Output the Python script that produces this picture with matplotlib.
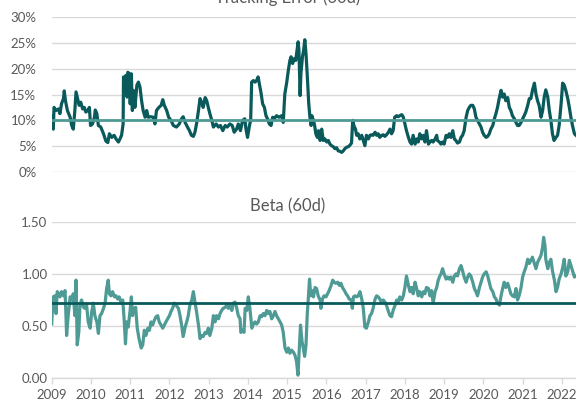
import matplotlib
matplotlib.use("Agg")
import matplotlib.pyplot as plt
from matplotlib.ticker import FuncFormatter

# ---------------- data ----------------
te_years = [2009.00, 2009.02, 2009.04, 2009.06, 2009.11, 2009.17, 2009.21, 2009.25, 2009.30, 2009.32,
            2009.35, 2009.40, 2009.47, 2009.51, 2009.55, 2009.59, 2009.62, 2009.65, 2009.70, 2009.74,
            2009.79, 2009.83, 2009.87, 2009.92, 2009.96, 2009.99, 2010.04, 2010.09, 2010.11, 2010.15,
            2010.19, 2010.25, 2010.32, 2010.38, 2010.43, 2010.47, 2010.53, 2010.59, 2010.64, 2010.70,
            2010.74, 2010.78, 2010.82, 2010.83, 2010.86, 2010.89, 2010.92, 2010.94, 2010.98, 2011.00,
            2011.03, 2011.055, 2011.08, 2011.12, 2011.17, 2011.21, 2011.25, 2011.29, 2011.33, 2011.38,
            2011.42, 2011.46, 2011.52, 2011.59, 2011.63, 2011.67, 2011.73, 2011.79, 2011.83, 2011.87,
            2011.93, 2011.98, 2012.04, 2012.10, 2012.18, 2012.25, 2012.31, 2012.35, 2012.40, 2012.46,
            2012.51, 2012.56, 2012.61, 2012.65, 2012.69, 2012.74, 2012.78, 2012.82, 2012.86, 2012.91,
            2012.95, 2012.99, 2013.03, 2013.08, 2013.12, 2013.19, 2013.25, 2013.30, 2013.36, 2013.42,
            2013.475, 2013.54, 2013.60, 2013.65, 2013.71, 2013.755, 2013.81, 2013.865, 2013.92, 2013.95,
            2013.99, 2014.04, 2014.07, 2014.095, 2014.14, 2014.18, 2014.22, 2014.26, 2014.29, 2014.33,
            2014.375, 2014.42, 2014.46, 2014.50, 2014.545, 2014.59, 2014.63, 2014.67, 2014.73, 2014.79,
            2014.86, 2014.90, 2014.94, 2014.99, 2015.03, 2015.07, 2015.10, 2015.14, 2015.17, 2015.22,
            2015.24, 2015.28, 2015.30, 2015.33, 2015.35, 2015.39, 2015.42, 2015.45, 2015.48, 2015.51,
            2015.55, 2015.58, 2015.61, 2015.63, 2015.67, 2015.70, 2015.73, 2015.77, 2015.80, 2015.84,
            2015.88, 2015.92, 2015.96, 2016.01, 2016.05, 2016.09, 2016.13, 2016.175, 2016.22, 2016.26,
            2016.30, 2016.345, 2016.39, 2016.43, 2016.47, 2016.515, 2016.56, 2016.60, 2016.64, 2016.67,
            2016.70, 2016.74, 2016.77, 2016.81, 2016.85, 2016.90, 2016.94, 2016.98, 2017.02, 2017.07,
            2017.11, 2017.15, 2017.19, 2017.24, 2017.28, 2017.32, 2017.36, 2017.41, 2017.45, 2017.49,
            2017.53, 2017.58, 2017.62, 2017.66, 2017.70, 2017.74, 2017.79, 2017.83, 2017.87, 2017.92,
            2017.96, 2018.00, 2018.04, 2018.09, 2018.13, 2018.17, 2018.21, 2018.26, 2018.30, 2018.34,
            2018.38, 2018.43, 2018.47, 2018.51, 2018.55, 2018.60, 2018.64, 2018.68, 2018.72, 2018.77,
            2018.81, 2018.83, 2018.88, 2018.92, 2018.96, 2019.00, 2019.05, 2019.09, 2019.13, 2019.17,
            2019.22, 2019.26, 2019.30, 2019.34, 2019.39, 2019.43, 2019.47, 2019.51, 2019.56, 2019.60,
            2019.64, 2019.68, 2019.73, 2019.77, 2019.81, 2019.85, 2019.90, 2019.94, 2019.98, 2020.02,
            2020.07, 2020.11, 2020.15, 2020.19, 2020.24, 2020.28, 2020.32, 2020.36, 2020.41, 2020.45,
            2020.49, 2020.53, 2020.57, 2020.62, 2020.66, 2020.70, 2020.74, 2020.79, 2020.83, 2020.87,
            2020.91, 2020.96, 2021.00, 2021.04, 2021.08, 2021.13, 2021.17, 2021.21, 2021.25, 2021.30,
            2021.34, 2021.38, 2021.42, 2021.47, 2021.51, 2021.55, 2021.59, 2021.64, 2021.68, 2021.72,
            2021.76, 2021.80, 2021.85, 2021.89, 2021.93, 2021.98, 2022.02, 2022.06, 2022.10, 2022.15,
            2022.19, 2022.23, 2022.27, 2022.32, 2022.36]
te_values = [10.9, 8.7, 8.3, 12.5, 11.9, 12.2, 11.3, 13.2, 14.2, 15.7,
             13.8, 11.9, 10.6, 9.0, 8.3, 11.9, 15.5, 14.5, 12.9, 13.5,
             12.2, 12.5, 11.6, 11.9, 12.5, 9.0, 9.3, 10.6, 12.0, 11.3,
             9.0, 8.7, 7.4, 6.0, 5.7, 7.4, 6.7, 7.1, 6.4, 5.8,
             6.4, 7.1, 9.3, 18.4, 17.4, 18.7, 14.5, 19.3, 19.0, 13.2,
             19.0, 11.9, 15.8, 12.5, 16.8, 17.4, 16.4, 13.8, 11.9, 10.6,
             11.9, 10.6, 10.7, 10.6, 9.3, 11.9, 12.5, 12.9, 14.0, 12.9,
             11.9, 10.6, 10.0, 9.0, 8.7, 9.3, 10.3, 10.7, 9.6, 8.7,
             8.0, 7.1, 6.9, 7.7, 9.3, 11.9, 14.2, 13.5, 12.5, 14.4,
             13.8, 12.5, 11.3, 10.0, 8.7, 9.3, 8.7, 9.0, 8.0, 9.0,
             8.7, 9.3, 9.0, 7.7, 8.3, 9.3, 8.0, 10.0, 10.3, 8.3,
             6.7, 9.0, 10.0, 17.4, 17.7, 17.4, 17.7, 18.4, 17.1, 15.5,
             13.2, 12.5, 10.9, 10.3, 9.3, 9.0, 10.6, 10.3, 10.9, 10.6,
             10.9, 9.6, 15.1, 17.4, 19.7, 21.6, 22.3, 21.0, 21.9, 21.6,
             22.9, 25.2, 23.6, 14.8, 19.0, 22.3, 23.6, 25.6, 22.9, 19.0,
             13.2, 10.6, 9.0, 10.9, 10.0, 9.0, 7.4, 6.7, 8.0, 6.1,
             8.3, 6.1, 6.4, 5.8, 6.1, 5.4, 5.1, 4.9, 4.5, 4.7,
             4.1, 4.0, 3.8, 4.1, 4.5, 4.8, 4.9, 5.2, 5.6, 10.0,
             9.0, 8.3, 7.1, 7.4, 6.4, 7.1, 6.1, 5.1, 7.1, 6.4,
             7.1, 7.2, 7.1, 7.7, 7.1, 7.4, 6.7, 7.1, 7.2, 6.9,
             7.2, 7.7, 8.3, 7.4, 8.0, 10.6, 10.9, 10.7, 10.9, 11.1,
             10.6, 9.3, 8.0, 6.7, 5.8, 5.4, 7.1, 5.4, 6.4, 5.8,
             7.4, 6.4, 7.1, 5.8, 8.0, 5.4, 5.8, 6.1, 5.8, 6.4,
             7.1, 6.1, 5.8, 5.4, 5.8, 5.4, 7.1, 6.7, 7.4, 6.7,
             8.0, 6.4, 6.1, 5.6, 5.8, 6.7, 7.1, 8.0, 10.6, 11.9,
             12.5, 12.9, 12.9, 12.2, 10.6, 10.0, 9.3, 8.7, 7.7, 7.1,
             6.7, 6.9, 7.4, 8.3, 9.0, 10.3, 11.3, 12.5, 14.5, 15.8,
             14.5, 15.1, 13.8, 14.4, 12.5, 11.9, 10.9, 10.3, 9.6, 9.0,
             9.0, 9.6, 10.3, 10.9, 11.6, 12.9, 14.2, 14.2, 15.8, 17.2,
             15.1, 13.8, 12.9, 10.6, 11.9, 14.5, 15.9, 14.5, 11.9, 10.0,
             7.4, 6.1, 6.7, 7.1, 9.0, 13.2, 17.2, 16.8, 15.8, 14.2,
             12.5, 10.6, 9.0, 7.4, 7.1]
te_average = 10.1

beta_years = [2009.00, 2009.015, 2009.04, 2009.08, 2009.11, 2009.14, 2009.18, 2009.21, 2009.25, 2009.30,
              2009.34, 2009.36, 2009.38, 2009.42, 2009.47, 2009.51, 2009.55, 2009.59, 2009.62, 2009.65,
              2009.69, 2009.72, 2009.76, 2009.81, 2009.85, 2009.89, 2009.93, 2009.98, 2010.02, 2010.06,
              2010.10, 2010.15, 2010.19, 2010.23, 2010.27, 2010.32, 2010.36, 2010.40, 2010.44, 2010.47,
              2010.51, 2010.55, 2010.60, 2010.64, 2010.68, 2010.72, 2010.77, 2010.81, 2010.85, 2010.88,
              2010.91, 2010.95, 2010.995, 2011.03, 2011.06, 2011.10, 2011.14, 2011.18, 2011.225, 2011.28,
              2011.32, 2011.36, 2011.40, 2011.45, 2011.49, 2011.53, 2011.57, 2011.62, 2011.66, 2011.70,
              2011.74, 2011.785, 2011.83, 2011.87, 2011.91, 2011.955, 2012.00, 2012.04, 2012.08, 2012.125,
              2012.17, 2012.23, 2012.27, 2012.31, 2012.35, 2012.40, 2012.44, 2012.48, 2012.52, 2012.57,
              2012.61, 2012.65, 2012.69, 2012.74, 2012.78, 2012.82, 2012.86, 2012.91, 2012.95, 2012.99,
              2013.03, 2013.08, 2013.12, 2013.16, 2013.20, 2013.25, 2013.29, 2013.33, 2013.37, 2013.42,
              2013.46, 2013.50, 2013.54, 2013.59, 2013.63, 2013.67, 2013.71, 2013.755, 2013.80, 2013.82,
              2013.865, 2013.90, 2013.93, 2013.97, 2014.01, 2014.05, 2014.10, 2014.14, 2014.18, 2014.22,
              2014.265, 2014.31, 2014.35, 2014.39, 2014.435, 2014.48, 2014.52, 2014.56, 2014.605, 2014.65,
              2014.69, 2014.73, 2014.775, 2014.82, 2014.86, 2014.90, 2014.945, 2014.99, 2015.03, 2015.07,
              2015.11, 2015.16, 2015.20, 2015.24, 2015.275, 2015.31, 2015.34, 2015.38, 2015.41, 2015.445,
              2015.48, 2015.51, 2015.55, 2015.57, 2015.60, 2015.63, 2015.67, 2015.71, 2015.75, 2015.79,
              2015.84, 2015.86, 2015.90, 2015.94, 2015.99, 2016.03, 2016.07, 2016.12, 2016.16, 2016.20,
              2016.24, 2016.29, 2016.33, 2016.37, 2016.41, 2016.46, 2016.50, 2016.54, 2016.58, 2016.63,
              2016.66, 2016.69, 2016.73, 2016.77, 2016.81, 2016.855, 2016.90, 2016.94, 2016.98, 2017.02,
              2017.07, 2017.11, 2017.15, 2017.19, 2017.24, 2017.28, 2017.32, 2017.36, 2017.41, 2017.45,
              2017.49, 2017.53, 2017.58, 2017.62, 2017.66, 2017.70, 2017.75, 2017.79, 2017.83, 2017.87,
              2017.92, 2017.96, 2018.00, 2018.04, 2018.09, 2018.13, 2018.17, 2018.21, 2018.26, 2018.30,
              2018.34, 2018.38, 2018.43, 2018.47, 2018.51, 2018.55, 2018.60, 2018.64, 2018.68, 2018.72,
              2018.77, 2018.81, 2018.85, 2018.89, 2018.92, 2018.96, 2019.00, 2019.05, 2019.09, 2019.13,
              2019.17, 2019.22, 2019.26, 2019.30, 2019.34, 2019.39, 2019.43, 2019.47, 2019.51, 2019.56,
              2019.60, 2019.64, 2019.68, 2019.73, 2019.77, 2019.81, 2019.85, 2019.90, 2019.94, 2019.98,
              2020.02, 2020.07, 2020.11, 2020.15, 2020.19, 2020.24, 2020.28, 2020.32, 2020.36, 2020.41,
              2020.45, 2020.49, 2020.53, 2020.57, 2020.62, 2020.66, 2020.70, 2020.74, 2020.79, 2020.83,
              2020.87, 2020.91, 2020.96, 2021.00, 2021.04, 2021.08, 2021.13, 2021.17, 2021.21, 2021.25,
              2021.30, 2021.34, 2021.38, 2021.42, 2021.47, 2021.51, 2021.535, 2021.57, 2021.59, 2021.64,
              2021.68, 2021.72, 2021.76, 2021.81, 2021.85, 2021.89, 2021.93, 2021.98, 2022.02, 2022.06,
              2022.10, 2022.15, 2022.19, 2022.23, 2022.27, 2022.32, 2022.36]
beta_values = [0.52, 0.64, 0.78, 0.79, 0.62, 0.83, 0.81, 0.78, 0.83, 0.79,
               0.84, 0.64, 0.41, 0.60, 0.78, 0.75, 0.81, 0.60, 0.94, 0.32,
               0.44, 0.70, 0.75, 0.68, 0.67, 0.70, 0.54, 0.48, 0.64, 0.72,
               0.60, 0.54, 0.43, 0.60, 0.62, 0.67, 0.72, 0.86, 0.94, 0.81,
               0.79, 0.83, 0.78, 0.79, 0.76, 0.78, 0.72, 0.75, 0.54, 0.33,
               0.54, 0.49, 0.64, 0.78, 0.60, 0.67, 0.68, 0.48, 0.38, 0.29,
               0.32, 0.46, 0.41, 0.48, 0.46, 0.54, 0.51, 0.56, 0.59, 0.60,
               0.54, 0.51, 0.48, 0.51, 0.54, 0.57, 0.60, 0.64, 0.67, 0.72,
               0.70, 0.67, 0.60, 0.51, 0.40, 0.49, 0.54, 0.60, 0.70, 0.75,
               0.83, 0.73, 0.64, 0.51, 0.38, 0.41, 0.40, 0.44, 0.43, 0.48,
               0.41, 0.48, 0.60, 0.54, 0.60, 0.57, 0.62, 0.65, 0.67, 0.68,
               0.70, 0.67, 0.70, 0.65, 0.72, 0.73, 0.68, 0.60, 0.57, 0.44,
               0.46, 0.44, 0.67, 0.65, 0.78, 0.67, 0.48, 0.52, 0.54, 0.52,
               0.54, 0.60, 0.59, 0.62, 0.60, 0.65, 0.62, 0.64, 0.57, 0.60,
               0.64, 0.60, 0.57, 0.54, 0.51, 0.44, 0.29, 0.25, 0.29, 0.24,
               0.27, 0.25, 0.22, 0.16, 0.03, 0.29, 0.51, 0.35, 0.29, 0.21,
               0.32, 0.60, 0.83, 0.95, 0.79, 0.84, 0.78, 0.87, 0.86, 0.79,
               0.75, 0.67, 0.76, 0.79, 0.78, 0.81, 0.84, 0.89, 0.94, 0.92,
               0.91, 0.92, 0.89, 0.91, 0.87, 0.84, 0.81, 0.79, 0.76, 0.75,
               0.67, 0.78, 0.79, 0.78, 0.79, 0.83, 0.76, 0.67, 0.49, 0.48,
               0.54, 0.60, 0.62, 0.67, 0.76, 0.79, 0.78, 0.76, 0.72, 0.75,
               0.73, 0.70, 0.64, 0.60, 0.59, 0.65, 0.70, 0.75, 0.73, 0.78,
               0.75, 0.79, 0.87, 0.98, 0.89, 0.83, 0.87, 0.81, 0.92, 0.86,
               0.79, 0.83, 0.78, 0.83, 0.81, 0.87, 0.86, 0.79, 0.84, 0.72,
               0.83, 0.87, 0.94, 0.98, 1.00, 1.05, 1.00, 0.95, 0.97, 0.95,
               0.97, 0.92, 0.98, 1.00, 0.98, 1.05, 1.08, 1.03, 0.97, 0.92,
               0.97, 1.00, 0.98, 0.92, 0.86, 0.83, 0.79, 0.87, 0.92, 0.97,
               1.00, 1.02, 0.98, 0.92, 0.86, 0.83, 0.78, 0.76, 0.72, 0.70,
               0.79, 0.86, 0.92, 0.87, 0.91, 0.86, 0.81, 0.79, 0.78, 0.86,
               0.75, 0.79, 0.87, 0.97, 1.02, 1.06, 1.14, 1.10, 1.13, 1.16,
               1.10, 1.05, 1.11, 1.14, 1.18, 1.26, 1.35, 1.27, 1.14, 1.05,
               1.11, 1.14, 1.03, 0.94, 0.83, 0.87, 0.95, 1.00, 1.06, 1.14,
               0.98, 1.02, 1.13, 1.08, 1.03, 0.97, 0.98]
beta_average = 0.72

year_ticks = list(range(2009, 2023))
te_ticks = [0, 5, 10, 15, 20, 25, 30]
beta_ticks = [0.0, 0.5, 1.0, 1.5]

# ---------------- style ----------------
DARK = "#0A5A5C"
LIGHT = "#4E9A95"
GRID = "#D9D9D9"
TXT = "#595959"
plt.rcParams['font.family'] = ['Lato', 'DejaVu Sans']

fig = plt.figure(figsize=(5.76, 4.05), dpi=100)
W, H = 576.0, 405.0
x0 = 51.7 / W

ax1 = fig.add_axes([x0, 1 - 172 / H, 1 - x0, (172 - 17) / H])
ax2 = fig.add_axes([x0, 1 - 378.3 / H, 1 - x0, (378.3 - 221.7) / H])

xmin, xmax = 2009.0, 2022.36

# top: tracking error
ax1.plot(te_years, te_values, color=DARK, lw=2.3, solid_joinstyle='round', zorder=3)
ax1.axhline(te_average, color=LIGHT, lw=2.0, zorder=4)
ax1.set_ylim(0, 30)
ax1.set_yticks(te_ticks)
ax1.yaxis.set_major_formatter(FuncFormatter(lambda v, p: f"{int(round(v))}%"))
ax1.set_xlim(xmin, xmax)
ax1.set_xticks([])
ax1.grid(axis='y', color=GRID, lw=1.0, zorder=0)
for s in ax1.spines.values():
    s.set_visible(False)
ax1.tick_params(axis='y', length=0, pad=11, labelsize=9.5, labelcolor=TXT)

# bottom: beta
ax2.plot(beta_years, beta_values, color=LIGHT, lw=2.3, solid_joinstyle='round', zorder=3)
ax2.axhline(beta_average, color=DARK, lw=2.0, zorder=4)
ax2.set_ylim(0, 1.5)
ax2.set_yticks(beta_ticks)
ax2.yaxis.set_major_formatter(FuncFormatter(lambda v, p: f"{v:.2f}"))
ax2.set_xlim(xmin, xmax)
ax2.set_xticks(year_ticks)
ax2.set_xticklabels([str(y) for y in year_ticks])
ax2.grid(axis='y', color=GRID, lw=1.0, zorder=0)
for k, s in ax2.spines.items():
    s.set_visible(k == 'bottom')
ax2.spines['bottom'].set_color(GRID)
ax2.spines['bottom'].set_linewidth(1.0)
ax2.tick_params(axis='y', length=0, pad=3, labelsize=9.5, labelcolor=TXT)
ax2.tick_params(axis='x', length=4, width=1.0, color=GRID, pad=4, labelsize=9.5, labelcolor=TXT)

fig.text(0.5, 1 - 3 / H, "Tracking Error (60d)", ha='center', va='baseline', fontsize=12, color=TXT)
fig.text(0.5, 1 - 211 / H, "Beta (60d)", ha='center', va='baseline', fontsize=12, color=TXT)

fig.savefig("out.png", dpi=100)
